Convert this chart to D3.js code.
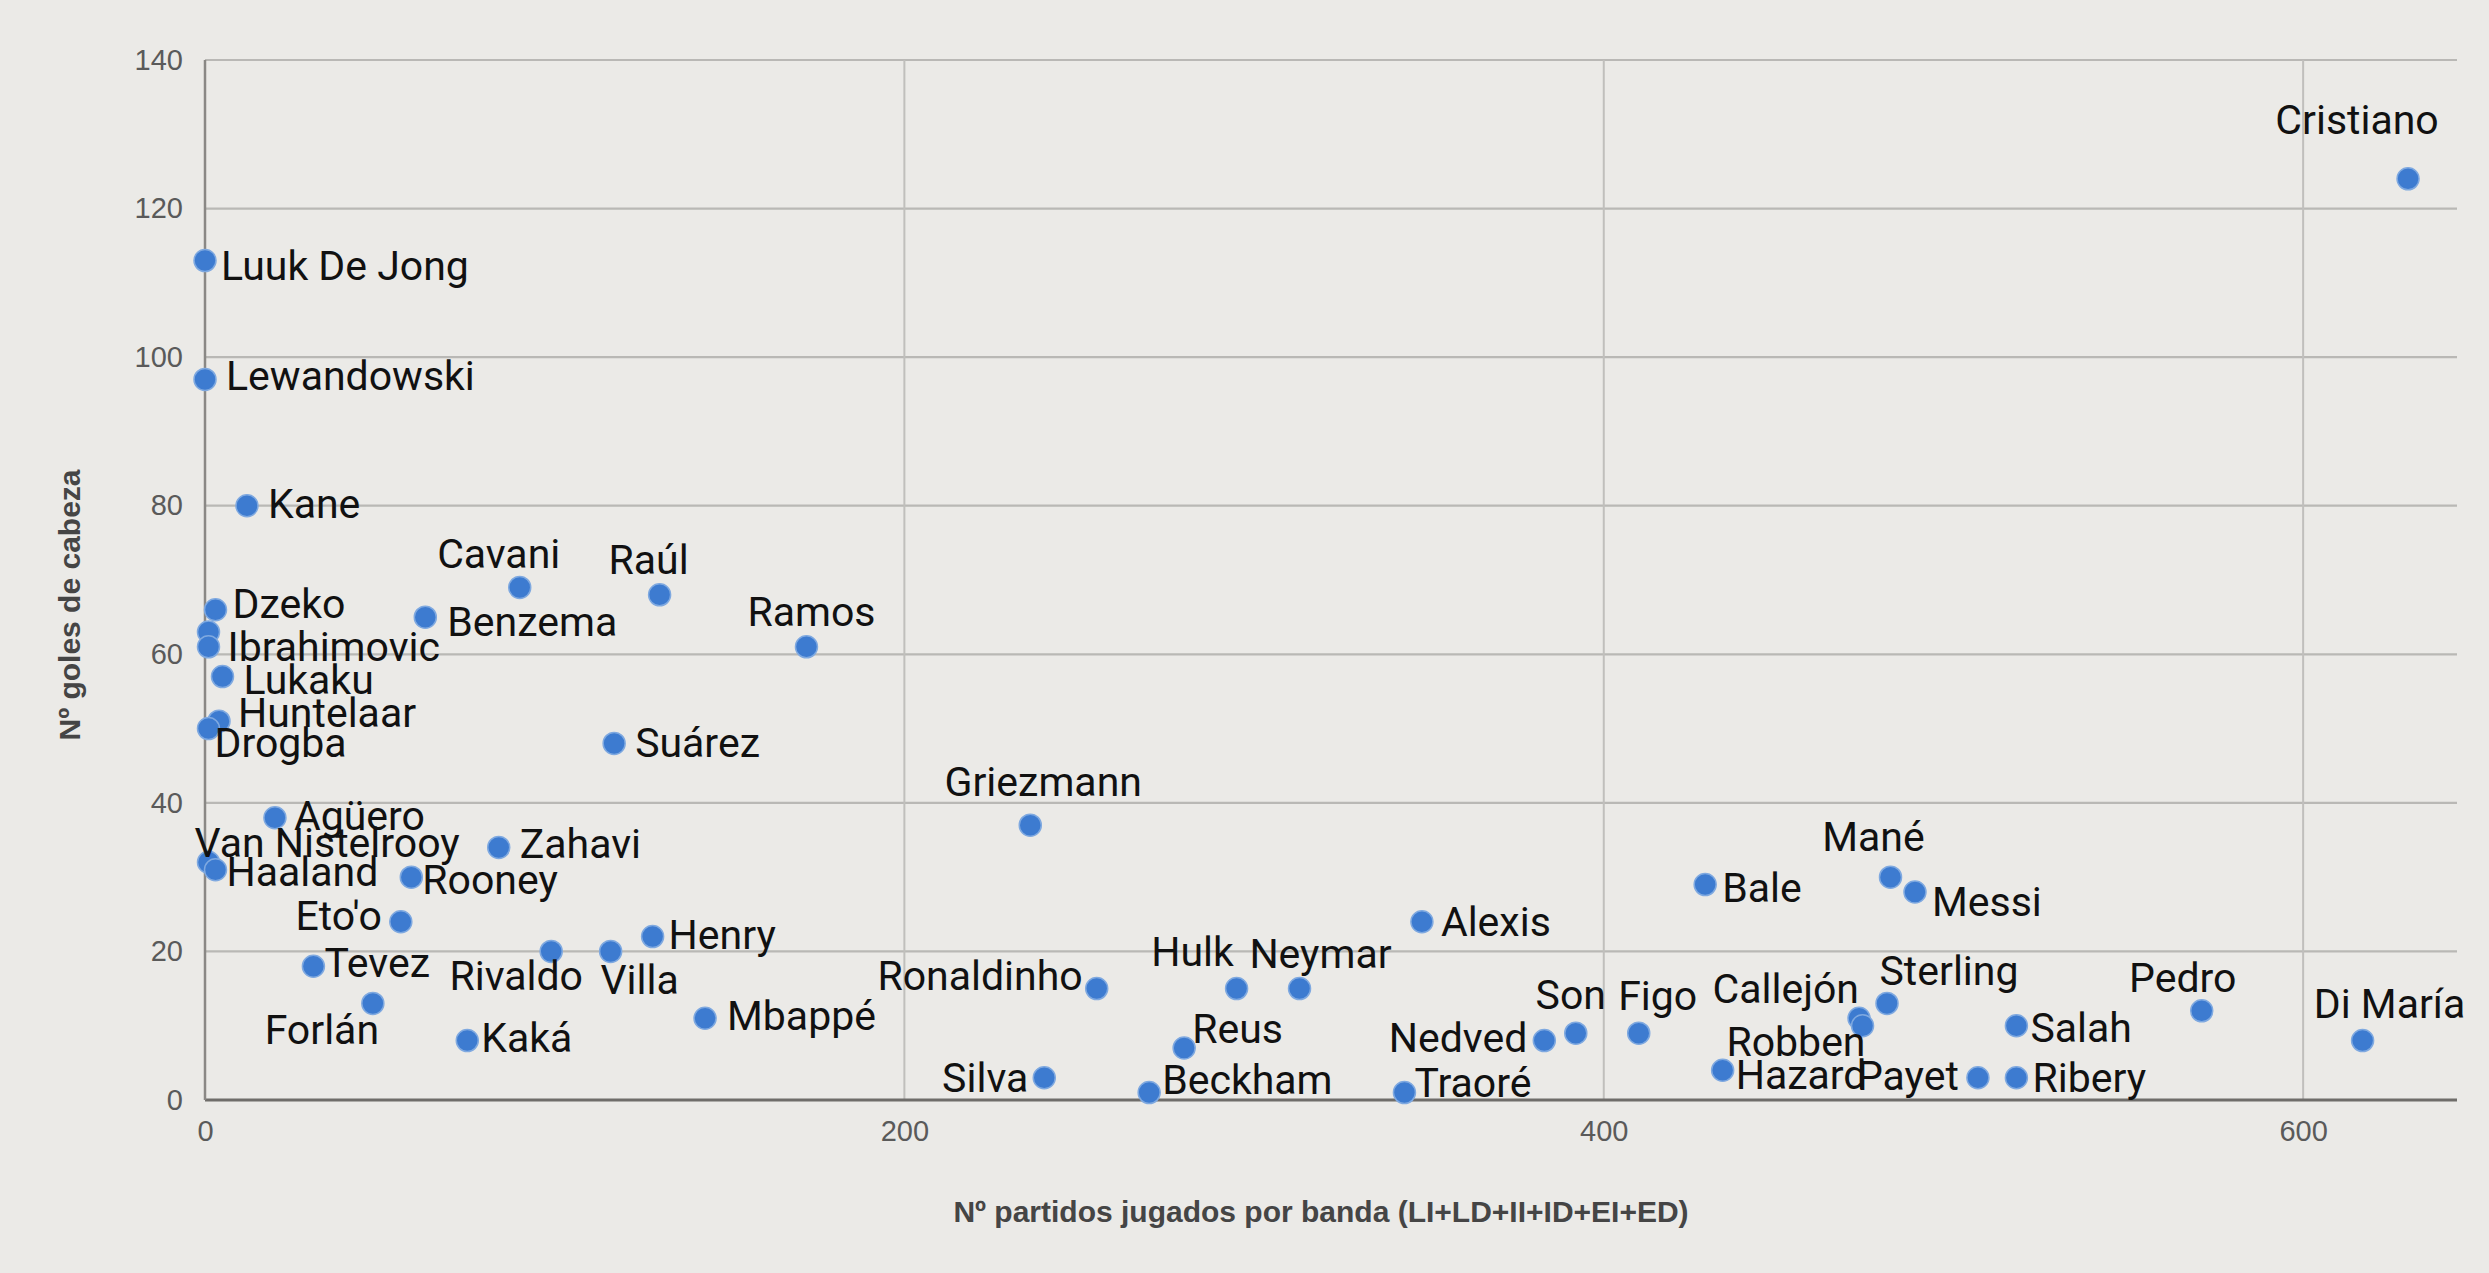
<!DOCTYPE html>
<html>
<head>
<meta charset="utf-8">
<script src="https://cdn.jsdelivr.net/npm/d3@7"></script>
<style>
  html, body { margin: 0; padding: 0; background: #ebeae7; }
  svg { display: block; }
</style>
</head>
<body>
<svg id="chart" width="2489" height="1273"></svg>
<script>
// ---- data ----
const names = ["Luuk De Jong","Lewandowski","Kane","Dzeko","","Ibrahimovic","Lukaku","Huntelaar","Drogba",
  "Benzema","Cavani","Raúl","Ramos","Suárez","Agüero","Van Nistelrooy","Zahavi","Haaland","Rooney","Eto'o",
  "Henry","Rivaldo","Villa","Tevez","Forlán","Kaká","Mbappé","Griezmann","Ronaldinho","Silva","Beckham",
  "Reus","Hulk","Neymar","Alexis","Traoré","Nedved","Son","Figo","Bale","Mané","Messi","Callejón","Robben",
  "Sterling","Hazard","Payet","Ribery","Salah","Pedro","Di María","Cristiano"];
const partidos = [0,0,12,3,1,1,5,4,1,
  63,90,130,172,117,20,1,84,3,59,56,
  128,99,116,31,48,75,143,236,255,240,270,
  280,295,313,348,343,383,392,410,429,482,489,473,474,
  481,434,507,518,518,571,617,630];
const goles = [113,97,80,66,63,61,57,51,50,
  65,69,68,61,48,38,32,34,31,30,24,
  22,20,20,18,13,8,11,37,15,3,1,
  7,15,15,24,1,8,9,9,29,30,28,11,10,
  13,4,3,3,10,12,8,124];
const xTicks = [0,200,400,600];
const yTicks = [0,20,40,60,80,100,120,140];
const xTitle = "Nº partidos jugados por banda (LI+LD+II+ID+EI+ED)";
const yTitle = "Nº goles de cabeza";

// ---- label placement (style only): [anchor, dx, dy] ----
const labelPlacement = {
  "Luuk De Jong":["start",16,5], "Lewandowski":["start",21,-3], "Kane":["start",21,-2],
  "Dzeko":["start",17,-6], "Ibrahimovic":["start",19,0], "Lukaku":["start",21,3],
  "Huntelaar":["start",19,-8], "Drogba":["start",6,14], "Benzema":["start",22,5],
  "Cavani":["middle",-21,-33], "Raúl":["middle",-11,-35], "Ramos":["middle",5,-35],
  "Suárez":["start",21,0], "Agüero":["start",19,-2], "Van Nistelrooy":["start",-14,-19],
  "Zahavi":["start",21,-3], "Haaland":["start",11,2], "Rooney":["start",11,3],
  "Eto'o":["end",-19,-6], "Henry":["start",16,-2], "Rivaldo":["middle",-35,25],
  "Villa":["middle",29,29], "Tevez":["start",11,-3], "Forlán":["middle",-51,27],
  "Kaká":["start",14,-3], "Mbappé":["start",22,-2], "Griezmann":["middle",13,-43],
  "Ronaldinho":["end",-14,-13], "Silva":["end",-16,0], "Beckham":["start",13,-13],
  "Reus":["start",8,-19], "Hulk":["middle",-44,-37], "Neymar":["middle",21,-35],
  "Alexis":["start",19,0], "Traoré":["start",10,-10], "Nedved":["end",-17,-3],
  "Son":["middle",-5,-38], "Figo":["middle",19,-37], "Bale":["start",17,3],
  "Mané":["middle",-17,-40], "Messi":["start",17,10], "Callejón":["end",0,-29],
  "Robben":["end",3,16], "Sterling":["middle",62,-32], "Hazard":["start",13,5],
  "Payet":["end",-19,-2], "Ribery":["start",16,0], "Salah":["start",14,2],
  "Pedro":["middle",-19,-33], "Di María":["middle",27,-37], "Cristiano":["middle",-51,-59]
};

// ---- layout ----
const plotLeft = 205, plotRight = 2457, plotTop = 60, plotBottom = 1100;
const svg = d3.select("#chart");

const x = d3.scaleLinear().domain([0, 644]).range([plotLeft, plotRight]);
const y = d3.scaleLinear().domain([0, 140]).range([plotBottom, plotTop]);

// gridlines
svg.append("g").selectAll("line").data(yTicks.filter(d => d > 0)).join("line")
  .attr("x1", plotLeft).attr("x2", plotRight)
  .attr("y1", d => y(d)).attr("y2", d => y(d))
  .attr("stroke", "#b9b8b5").attr("stroke-width", 2.2);
svg.append("g").selectAll("line").data(xTicks.filter(d => d > 0)).join("line")
  .attr("x1", d => x(d)).attr("x2", d => x(d))
  .attr("y1", plotTop).attr("y2", plotBottom)
  .attr("stroke", "#c0bfbc").attr("stroke-width", 2);

// axes (labels only)
const xAxis = svg.append("g").attr("transform", `translate(0,${plotBottom + 14})`)
  .call(d3.axisBottom(x).tickValues(xTicks).tickSize(0).tickPadding(6));
const yAxis = svg.append("g").attr("transform", `translate(${plotLeft - 22},0)`)
  .call(d3.axisLeft(y).tickValues(yTicks).tickSize(0).tickPadding(0));
[xAxis, yAxis].forEach(a => {
  a.select(".domain").remove();
  a.selectAll("text").attr("fill", "#5a5a5a")
    .style("font-family", "'Liberation Sans', Arial, sans-serif").style("font-size", "29px");
});

// axis lines
svg.append("line").attr("x1", plotLeft).attr("x2", plotRight).attr("y1", plotBottom).attr("y2", plotBottom)
  .attr("stroke", "#6f6d6a").attr("stroke-width", 3);
svg.append("line").attr("x1", plotLeft).attr("x2", plotLeft).attr("y1", plotTop).attr("y2", plotBottom)
  .attr("stroke", "#8a8885").attr("stroke-width", 2.5);

// axis titles
svg.append("text").attr("x", (plotLeft + plotRight) / 2 - 10).attr("y", 1222)
  .attr("text-anchor", "middle").attr("fill", "#454545")
  .style("font-family", "'Liberation Sans', Arial, sans-serif").style("font-weight", "bold").style("font-size", "30px")
  .text(xTitle);
svg.append("text").attr("transform", `translate(80,${(plotTop + plotBottom) / 2 + 25}) rotate(-90)`)
  .attr("text-anchor", "middle").attr("fill", "#454545")
  .style("font-family", "'Liberation Sans', Arial, sans-serif").style("font-weight", "bold").style("font-size", "30px")
  .text(yTitle);

// points
const pts = names.map((n, i) => ({ name: n, px: partidos[i], gy: goles[i] }));
svg.append("g").selectAll("circle").data(pts).join("circle")
  .attr("cx", d => x(d.px)).attr("cy", d => y(d.gy)).attr("r", 11)
  .attr("fill", "#3d7bd0").attr("stroke", "#7fa9e0").attr("stroke-width", 1.5);

// labels
const place = d => labelPlacement[d.name] || ["start", 16, 0];
svg.append("g").selectAll("text").data(pts.filter(d => d.name)).join("text")
  .attr("x", d => x(d.px) + place(d)[1])
  .attr("y", d => y(d.gy) + place(d)[2])
  .attr("text-anchor", d => place(d)[0])
  .attr("dominant-baseline", "central")
  .attr("fill", "#111")
  .style("font-family", "Roboto, 'Noto Sans', sans-serif").style("font-size", "41px")
  .text(d => d.name);
</script>
</body>
</html>
